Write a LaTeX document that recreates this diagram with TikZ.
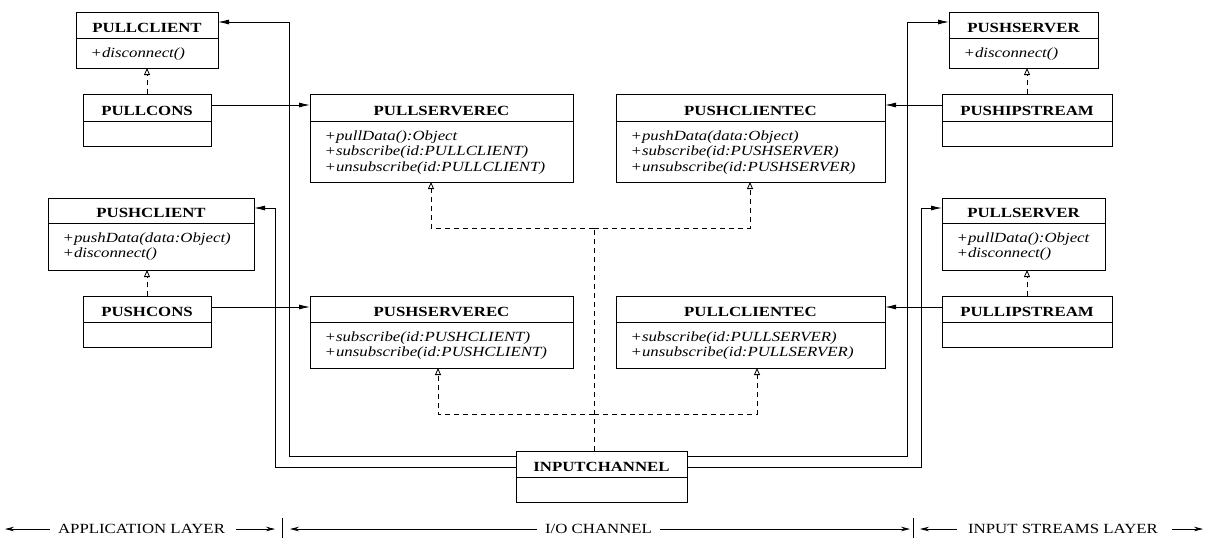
\documentclass[tikz,border=0pt]{standalone}
\usepackage{fontspec}
\setmainfont{Liberation Serif}[FakeStretch=1.2]
\usetikzlibrary{arrows.meta}
\newcommand\umlclass[7]{%
  \node[classbox, minimum width={#4pt-#2pt}, minimum height={#5pt-#3pt}] (#1) at ({(#2+#4)/2},{(#3+#5)/2}) {};
  \draw[divline] (#2,#6) -- (#4,#6);
  \node[titletext] (#1-t) at ({(#2+#4)/2},#6-5.5) {#7};
}
\newcommand\umlmeths[4]{%
  \foreach \m [count=\i] in {#4} {\node[methtext] (#1-m\i) at (#2+14.5,#3+19+15.5*\i-15.5) {\m};}
}
\begin{document}
\begin{tikzpicture}[x=1pt,y=-1pt,
  font=\fontsize{14}{15.5}\selectfont,
  classbox/.style={draw, line width=0.9pt, inner sep=0pt, outer sep=0pt},
  divline/.style={line width=0.9pt},
  titletext/.style={anchor=base, inner sep=0pt, font=\fontsize{14}{15.5}\selectfont\bfseries},
  methtext/.style={anchor=base west, inner sep=0pt, font=\fontsize{14}{15.5}\selectfont\itshape},
  assoc/.style={line width=0.9pt, -{Latex[length=11pt,width=5pt]}},
  plain/.style={line width=0.9pt},
  real/.style={line width=0.9pt, dash pattern=on 5pt off 4pt, -{Triangle[open,length=7pt,width=6pt,line width=0.8pt]}},
  realline/.style={line width=0.9pt, dash pattern=on 5pt off 4pt},
  layer/.style={anchor=center, inner sep=0pt, font=\fontsize{14}{15.5}\selectfont},
  larr/.style={line width=0.7pt, -{Stealth[length=9pt,width=4.5pt]}},
  sep/.style={line width=0.9pt}
]
\useasboundingbox (0,0) rectangle (1214,543);

% classes
\umlclass{pullclient}{76}{12}{218}{68}{38}{PULLCLIENT}
\umlmeths{pullclient}{76}{38}{+disconnect()}
\umlclass{pullcons}{83}{94}{211}{146}{121}{PULLCONS}
\umlclass{pullserverec}{310}{94}{573}{182}{121}{PULLSERVEREC}
\umlmeths{pullserverec}{310}{121}{+pullData():Object,+subscribe(id:PULLCLIENT),+unsubscribe(id:PULLCLIENT)}
\umlclass{pushclientec}{616}{94}{885}{182}{121}{PUSHCLIENTEC}
\umlmeths{pushclientec}{616}{121}{+pushData(data:Object),+subscribe(id:PUSHSERVER),+unsubscribe(id:PUSHSERVER)}
\umlclass{pushserver}{949}{12}{1098}{68}{38}{PUSHSERVER}
\umlmeths{pushserver}{949}{38}{+disconnect()}
\umlclass{pushipstream}{942}{94}{1112}{146}{121}{PUSHIPSTREAM}

\umlclass{pushclient}{48}{198}{254}{270}{223}{PUSHCLIENT}
\umlmeths{pushclient}{48}{223}{+pushData(data:Object),+disconnect()}
\umlclass{pushcons}{83}{296}{211}{347}{322}{PUSHCONS}
\umlclass{pushserverec}{310}{296}{573}{368}{322}{PUSHSERVEREC}
\umlmeths{pushserverec}{310}{322}{+subscribe(id:PUSHCLIENT),+unsubscribe(id:PUSHCLIENT)}
\umlclass{pullclientec}{616}{296}{885}{368}{322}{PULLCLIENTEC}
\umlmeths{pullclientec}{616}{322}{+subscribe(id:PULLSERVER),+unsubscribe(id:PULLSERVER)}
\umlclass{pullserver}{942}{198}{1105}{270}{223}{PULLSERVER}
\umlmeths{pullserver}{942}{223}{+pullData():Object,+disconnect()}
\umlclass{pullipstream}{942}{296}{1112}{347}{322}{PULLIPSTREAM}

\umlclass{ic}{516}{451}{687}{502}{477}{INPUTCHANNEL}

% associations
\draw[assoc] ([yshift=-11pt]pullcons.north east) -- ([yshift=-11pt]pullserverec.north west);
\draw[assoc] ([yshift=-11pt]pushcons.north east) -- ([yshift=-11pt]pushserverec.north west);
\draw[assoc] ([yshift=-11pt]pushipstream.north west) -- ([yshift=-11pt]pushclientec.north east);
\draw[assoc] ([yshift=-11pt]pullipstream.north west) -- ([yshift=-11pt]pullclientec.north east);

\draw[assoc] ([yshift=-5pt]ic.north west) -| ([xshift=71pt,yshift=-10pt]pullclient.north east) -- ([yshift=-10pt]pullclient.north east);
\draw[assoc] ([yshift=-16pt]ic.north west) -| ([xshift=21pt,yshift=-10pt]pushclient.north east) -- ([yshift=-10pt]pushclient.north east);
\draw[assoc] ([yshift=-5pt]ic.north east) -| ([xshift=-42pt,yshift=-10pt]pushserver.north west) -- ([yshift=-10pt]pushserver.north west);
\draw[assoc] ([yshift=-16pt]ic.north east) -| ([xshift=-21pt,yshift=-10pt]pullserver.north west) -- ([yshift=-10pt]pullserver.north west);

% realizations
\draw[real] (pullcons.north) -- (pullcons.north |- pullclient.south);
\draw[real] (pushcons.north) -- (pushcons.north |- pushclient.south);
\draw[real] (pushipstream.north) -- (pushipstream.north |- pushserver.south);
\draw[real] (pullipstream.north) -- (pullipstream.north |- pullserver.south);

\coordinate (j1) at (594,228);
\coordinate (j2) at (594,414);
\draw[realline] ([xshift=-7.5pt]ic.north) -- (j1);
\draw[real] (j1) -| ([xshift=-10.5pt]pullserverec.south);
\draw[real] (j1) -| ([xshift=-0.5pt]pushclientec.south);
\draw[real] (j2) -| ([xshift=-3.5pt]pushserverec.south);
\draw[real] (j2) -| ([xshift=6.5pt]pullclientec.south);

% layer labels
\node[layer] (app) at (141.5,529) {APPLICATION LAYER};
\node[layer] (ioc) at (598.5,529) {I/O CHANNEL};
\node[layer] (isl) at (1063,529) {INPUT STREAMS LAYER};
\coordinate (e1) at (5,529);
\coordinate (e2) at (275,529);
\coordinate (e3) at (290,529);
\coordinate (e4) at (910,529);
\coordinate (e5) at (920,529);
\coordinate (e6) at (1203,529);
\coordinate (s1a) at (282,518);
\coordinate (s1b) at (282,538);
\coordinate (s2a) at (913.5,518);
\coordinate (s2b) at (913.5,538);
\draw[larr] ([xshift=-8pt]app.west) -- (e1);
\draw[larr] ([xshift=11pt]app.east) -- (e2);
\draw[larr] ([xshift=-8pt]ioc.west) -- (e3);
\draw[larr] ([xshift=8pt]ioc.east) -- (e4);
\draw[larr] ([xshift=-11pt]isl.west) -- (e5);
\draw[larr] ([xshift=14pt]isl.east) -- (e6);
\draw[sep] (s1a) -- (s1b);
\draw[sep] (s2a) -- (s2b);
\end{tikzpicture}
\end{document}
